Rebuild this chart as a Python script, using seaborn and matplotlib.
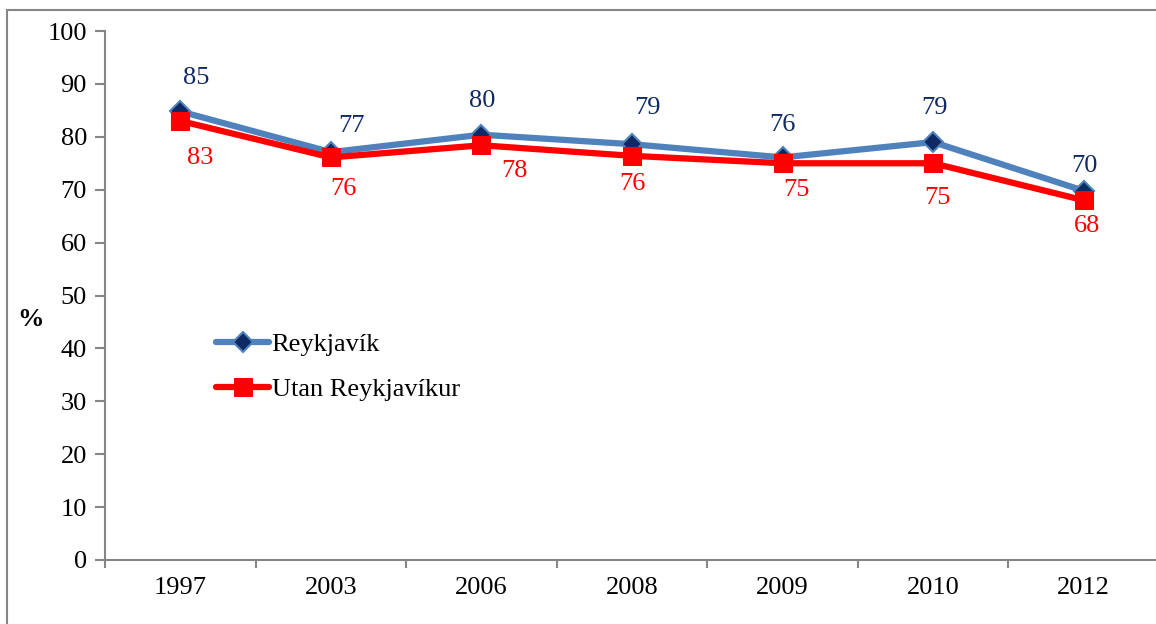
import pandas as pd
import matplotlib.pyplot as plt
import seaborn as sns
from matplotlib.patches import Rectangle

# Chart data
years = ["1997", "2003", "2006", "2008", "2009", "2010", "2012"]
reykjavik = [84.8, 77.1, 80.4, 78.6, 76.1, 79.0, 69.8]
utan_reykjavikur = [83.0, 76.1, 78.4, 76.4, 75.0, 75.0, 68.0]

# Label offsets in pixels (dx, dy up)
blue_offsets = [(16, 33), (21, 26), (1, 34), (15, 36), (0, 32), (1, 34), (1, 25)]
red_offsets = [(20, -37), (13, -32), (33, -26), (0, -28), (14, -27), (4, -35), (3, -26)]

sns.set_style("white")
plt.rcParams["font.family"] = ["Liberation Serif", "DejaVu Serif"]
plt.rcParams["text.color"] = "black"

grey = "#868686"
blue_line = "#4f81bd"
navy = "#0f2a63"
red = "#ff0000"

df = pd.DataFrame({"pos": range(len(years)), "Reykjavík": reykjavik,
                   "Utan Reykjavíkur": utan_reykjavikur})

fig = plt.figure(figsize=(11.56, 6.24), dpi=100)
ax = fig.add_axes([105 / 1156, 64 / 624, 1054 / 1156, 529 / 624])

sns.lineplot(data=df, x="pos", y="Reykjavík", ax=ax, color=blue_line,
             linewidth=4.5, marker="D", markersize=10, markerfacecolor=navy,
             markeredgecolor=blue_line, markeredgewidth=1.5, label="Reykjavík")
sns.lineplot(data=df, x="pos", y="Utan Reykjavíkur", ax=ax, color=red,
             linewidth=4.5, marker="s", markersize=13, markerfacecolor=red,
             markeredgecolor=red, label="Utan Reykjavíkur")

# Data labels
for i, v in enumerate(reykjavik):
    dx, dy = blue_offsets[i]
    ax.annotate(f"{v:.0f}", (i, v), xytext=(dx * 0.72, dy * 0.72),
                textcoords="offset points", ha="center", va="center",
                fontsize=19, color=navy)
for i, v in enumerate(utan_reykjavikur):
    dx, dy = red_offsets[i]
    ax.annotate(f"{v:.0f}", (i, v), xytext=(dx * 0.72, dy * 0.72),
                textcoords="offset points", ha="center", va="center",
                fontsize=19, color=red)

# Axes styling
ax.set_xlim(-0.5, len(years) - 0.5)
ax.set_ylim(0, 100)
ax.set_yticks(range(0, 101, 10))
ax.set_xticks(range(len(years)))
ax.set_xticklabels(years)
ax.set_xticks([i - 0.5 for i in range(len(years) + 1)], minor=True)
ax.tick_params(axis="x", which="major", length=0, labelsize=19, pad=12,
               labelcolor="black")
ax.tick_params(axis="x", which="minor", length=6, width=1.5, color=grey,
               direction="out", bottom=True)
ax.tick_params(axis="y", length=7, width=1.5, color=grey, direction="out",
               labelsize=19, pad=6, left=True, labelcolor="black")
ax.set_xlabel("")
ax.set_ylabel("")
for side in ["top", "right"]:
    ax.spines[side].set_visible(False)
for side in ["left", "bottom"]:
    ax.spines[side].set_color(grey)
    ax.spines[side].set_linewidth(1.5)

fig.text(30 / 1156, 1 - 320 / 624, "%", fontsize=19, fontweight="bold",
         ha="center", va="center", color="black")

leg = ax.legend(loc="upper left", bbox_to_anchor=(0.083, 0.475), frameon=False,
                fontsize=19, handlelength=2.0, handletextpad=0.1,
                labelspacing=0.82)
for t in leg.get_texts():
    t.set_color("black")

# Outer chart border
fig.patches.append(Rectangle((7 / 1156, -0.1), 1.2, 1 - 10 / 624 + 0.1,
                             transform=fig.transFigure, fill=False,
                             edgecolor=grey, linewidth=1.5))

fig.savefig("out.png", dpi=100)
